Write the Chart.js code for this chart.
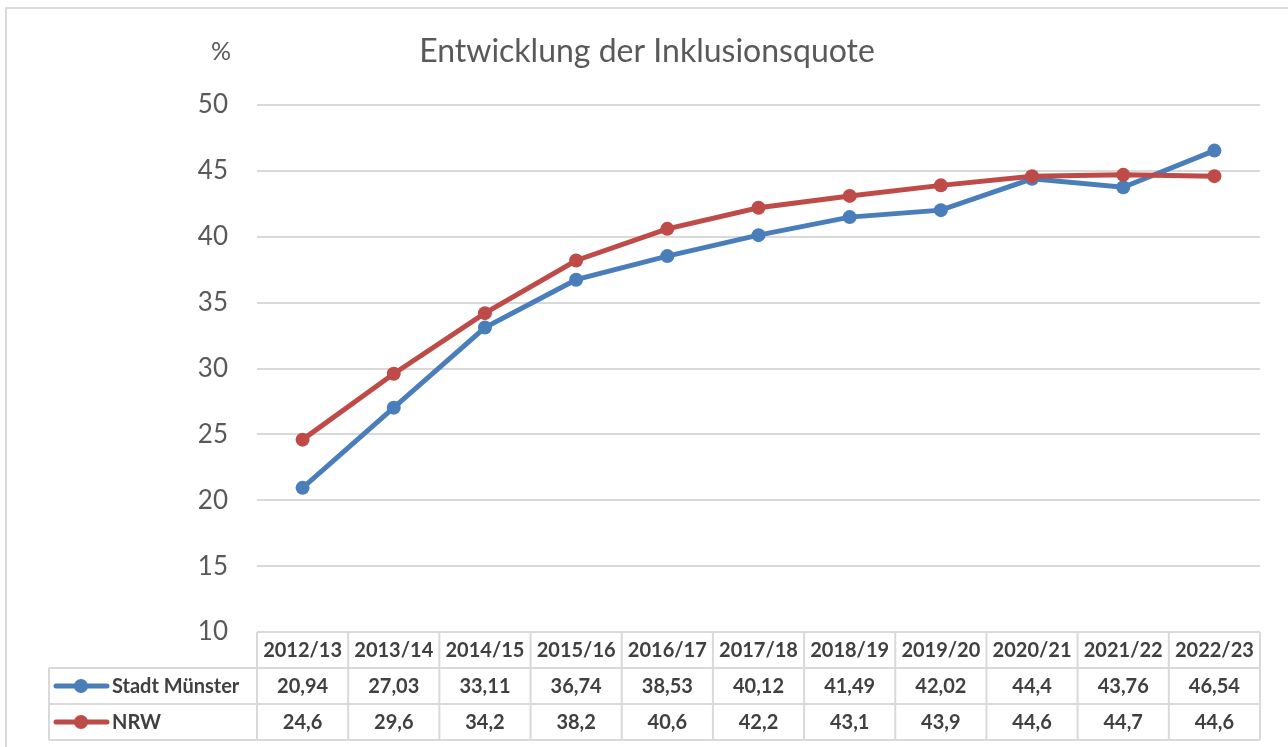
<!DOCTYPE html>
<html>
<head>
<meta charset="utf-8">
<script src="https://cdn.jsdelivr.net/npm/chart.js@4"></script>
<style>
  html, body { margin: 0; padding: 0; background: #fff; overflow: hidden; }
  #frame { position: absolute; left: 5px; top: 7px; width: 1300px; height: 800px; border: 2px solid #d9d9d9; }
  #wrap { position: absolute; left: 0; top: 0; width: 1288px; height: 747px; }
</style>
</head>
<body>
<div id="frame"></div>
<div id="wrap"><canvas id="chart" width="1288" height="747"></canvas></div>
<script>
// Data
const years = ['2012/13', '2013/14', '2014/15', '2015/16', '2016/17', '2017/18', '2018/19', '2019/20', '2020/21', '2021/22', '2022/23'];
const muenster = [20.94, 27.03, 33.11, 36.74, 38.53, 40.12, 41.49, 42.02, 44.4, 43.76, 46.54];
const nrw = [24.6, 29.6, 34.2, 38.2, 40.6, 42.2, 43.1, 43.9, 44.6, 44.7, 44.6];
const seriesNames = ['Stadt Münster', 'NRW'];
const seriesColors = ['#4a7ebb', '#be4b48'];

const FONT = 'Lato, "Open Sans", sans-serif';
const fmt = v => String(v).replace('.', ',');

// title, unit label and the data table under the x axis
const tablePlugin = {
  id: 'dataTable',
  afterDraw(chart) {
    const ctx = chart.ctx;
    const area = chart.chartArea;
    const n = years.length;
    const step = (area.right - area.left) / n;
    const rowH = 36;
    const top = area.bottom;
    const legendLeft = 49;

    ctx.save();
    // title + unit
    ctx.fillStyle = '#595959';
    ctx.textBaseline = 'middle';
    ctx.textAlign = 'center';
    ctx.font = '32px ' + FONT;
    ctx.fillText('Entwicklung der Inklusionsquote', 647, 52);
    ctx.font = '25px ' + FONT;
    ctx.fillText('%', 221, 52);

    // grid
    ctx.strokeStyle = '#d9d9d9';
    ctx.lineWidth = 2;
    ctx.beginPath();
    for (let r = 0; r <= 3; r++) {
      const y = top + r * rowH;
      ctx.moveTo(r === 0 ? area.left : legendLeft, y);
      ctx.lineTo(area.right, y);
    }
    for (let i = 0; i <= n; i++) {
      const x = area.left + i * step;
      ctx.moveTo(x, top);
      ctx.lineTo(x, top + 3 * rowH);
    }
    ctx.moveTo(legendLeft, top + rowH);
    ctx.lineTo(legendLeft, top + 3 * rowH);
    ctx.stroke();

    // header + values
    ctx.fillStyle = '#404040';
    ctx.font = 'bold 20px ' + FONT;
    ctx.textAlign = 'center';
    const xs = chart.scales.x;
    const rows = [muenster, nrw];
    years.forEach((lab, i) => {
      const cx = xs.getPixelForValue(i);
      ctx.fillText(lab, cx, top + rowH / 2 + 1);
      rows.forEach((vals, r) => {
        ctx.fillText(fmt(vals[i]), cx, top + rowH * (r + 1.5) + 1);
      });
    });

    // legend keys
    seriesNames.forEach((name, r) => {
      const cy = top + rowH * (r + 1.5);
      ctx.strokeStyle = seriesColors[r];
      ctx.lineWidth = 5;
      ctx.lineCap = 'round';
      ctx.beginPath();
      ctx.moveTo(56, cy);
      ctx.lineTo(107, cy);
      ctx.stroke();
      ctx.fillStyle = seriesColors[r];
      ctx.beginPath();
      ctx.arc(81, cy, 7, 0, Math.PI * 2);
      ctx.fill();
      ctx.fillStyle = '#404040';
      ctx.textAlign = 'left';
      ctx.fillText(name, 112, cy + 1);
    });
    ctx.restore();
  }
};

new Chart(document.getElementById('chart'), {
  type: 'line',
  data: {
    labels: years,
    datasets: [
      {
        label: seriesNames[0],
        data: muenster,
        borderColor: seriesColors[0],
        backgroundColor: seriesColors[0],
        borderWidth: 5,
        pointRadius: 7,
        pointBorderWidth: 0,
        tension: 0,
        order: 1
      },
      {
        label: seriesNames[1],
        data: nrw,
        borderColor: seriesColors[1],
        backgroundColor: seriesColors[1],
        borderWidth: 5,
        pointRadius: 7,
        pointBorderWidth: 0,
        tension: 0,
        order: 0
      }
    ]
  },
  options: {
    responsive: false,
    animation: false,
    layout: { padding: { left: 0, right: 28, top: 105, bottom: 115 } },
    scales: {
      x: {
        display: false,
        offset: true
      },
      y: {
        min: 10,
        max: 50,
        afterFit: s => { s.width = 257; },
        ticks: {
          stepSize: 5,
          padding: 29,
          color: '#595959',
          font: { family: FONT, size: 26 }
        },
        grid: { color: '#d9d9d9', lineWidth: 2, drawTicks: false },
        border: { display: false }
      }
    },
    plugins: {
      legend: { display: false },
      tooltip: { enabled: false }
    }
  },
  plugins: [tablePlugin]
});
</script>
</body>
</html>
